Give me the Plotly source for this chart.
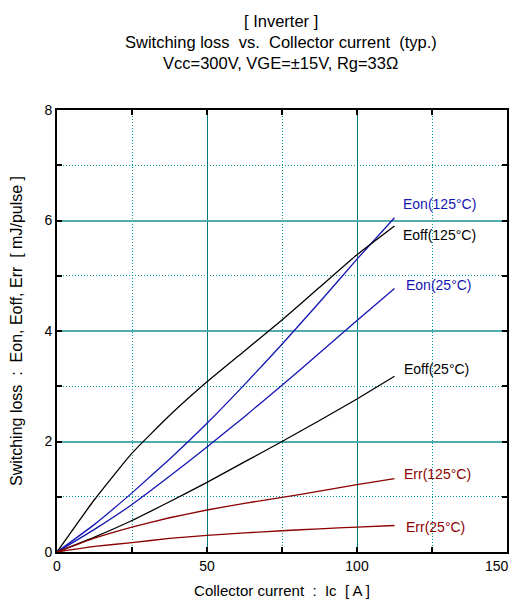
import plotly.graph_objects as go

NB = "\u00a0"

ic = [0, 12.5, 25, 37.5, 50, 62.5, 75, 87.5, 100, 112.5]
eon_125 = [0, 0.5, 1.07, 1.68, 2.33, 3.03, 3.76, 4.52, 5.30, 6.05]
eoff_125 = [0, 0.95, 1.79, 2.47, 3.08, 3.64, 4.2, 4.79, 5.38, 5.9]
eon_25 = [0, 0.41, 0.86, 1.37, 1.90, 2.45, 3.02, 3.6, 4.19, 4.77]
eoff_25 = [0, 0.27, 0.57, 0.91, 1.26, 1.63, 2.0, 2.38, 2.77, 3.18]
err_125 = [0, 0.25, 0.45, 0.62, 0.76, 0.88, 0.99, 1.1, 1.22, 1.33]
err_25 = [0, 0.1, 0.17, 0.245, 0.30, 0.345, 0.385, 0.42, 0.45, 0.48]

x_ticks = [0, 50, 100, 150]
x_tick_labels = ["0", "50", "100", "150"]

series = [
    ("Eon(125°C)", eon_125, "#1515b5", 114.8, 6.29),
    ("Eoff(125°C)", eoff_125, "#000000", 114.8, 5.73),
    ("Eon(25°C)", eon_25, "#1515b5", 115.6, 4.84),
    ("Eoff(25°C)", eoff_25, "#000000", 114.9, 3.32),
    ("Err(125°C)", err_125, "#8b0000", 115.1, 1.42),
    ("Err(25°C)", err_25, "#8b0000", 115.7, 0.46),
]

# page offset (browser body margin)
OFF = 8
W, H = 518 - OFF, 604 - OFF
L, T = 57 - OFF, 110 - OFF
PW, PH = 450.3, 442.3
R = W - L - PW
B = H - T - PH

fig = go.Figure()
for name, vals, color, lx, ly in series:
    fig.add_trace(go.Scatter(x=ic, y=vals, mode="lines",
                             line=dict(color=color, width=1.3, shape="spline", smoothing=0.4),
                             name=name, showlegend=False, hoverinfo="skip"))
    fig.add_annotation(x=lx, y=ly, text=name, showarrow=False, xanchor="left", yanchor="middle",
                       font=dict(color=color, size=14))

axis_common = dict(
    showline=True, linecolor="black", linewidth=2, mirror="ticks",
    ticks="inside", ticklen=5, tickwidth=2, tickcolor="black",
    showgrid=True, zeroline=False, automargin=False,
    tickfont=dict(size=14, color="black"),
)
# last x tick label would overflow the page edge; draw it as an annotation instead
shown_labels = x_tick_labels[:-1] + [""]
fig.update_xaxes(range=[0, 150], tickmode="array", tickvals=x_ticks, ticktext=shown_labels,
                 gridcolor="#007878", gridwidth=1,
                 minor=dict(dtick=25, showgrid=True, gridcolor="#009a9a", griddash="1px,2px", gridwidth=1,
                            ticks="inside", ticklen=5, tickcolor="black", tickwidth=1.5),
                 title=dict(text=f"Collector current{NB}{NB}:{NB}{NB}Ic{NB}{NB}[ A ]",
                            font=dict(size=15, color="black"), standoff=13),
                 **axis_common)
fig.add_annotation(x=1 + (503 - L - PW) / PW, y=0, xref="paper", yref="paper",
                   text=x_tick_labels[-1], showarrow=False, xanchor="right", yanchor="middle",
                   yshift=-14, font=dict(size=14, color="black"))

fig.update_yaxes(range=[0, 8], dtick=2, gridcolor="#4fadad", gridwidth=1.6,
                 minor=dict(dtick=1, showgrid=True, gridcolor="#009a9a", griddash="1px,2px", gridwidth=1,
                            ticks="inside", ticklen=5, tickcolor="black", tickwidth=1.5),
                 title=dict(text=f"Switching loss{NB}{NB}:{NB}{NB}Eon, Eoff, Err{NB}{NB}[ mJ/pulse ]",
                            font=dict(size=16, color="black"), standoff=18),
                 **axis_common)

titles = [
    ("[ Inverter ]", 21),
    (f"Switching loss{NB}{NB}vs.{NB}{NB}Collector current{NB}{NB}(typ.)", 42),
    ("Vcc=300V, VGE=±15V, Rg=33Ω", 63),
]
for txt, ypix in titles:
    fy = ypix - OFF
    fig.add_annotation(x=(281 - OFF - L) / PW, y=(T + PH - fy) / PH, xref="paper", yref="paper",
                       text=txt, showarrow=False, font=dict(size=16.5, color="black"),
                       xanchor="center", yanchor="middle")

fig.update_layout(
    width=W, height=H,
    margin=dict(l=L, r=R, t=T, b=B, pad=0, autoexpand=False),
    paper_bgcolor="white", plot_bgcolor="white",
    font=dict(family="Liberation Sans, Arial, sans-serif", color="black"),
)

fig.write_html("out.html")
